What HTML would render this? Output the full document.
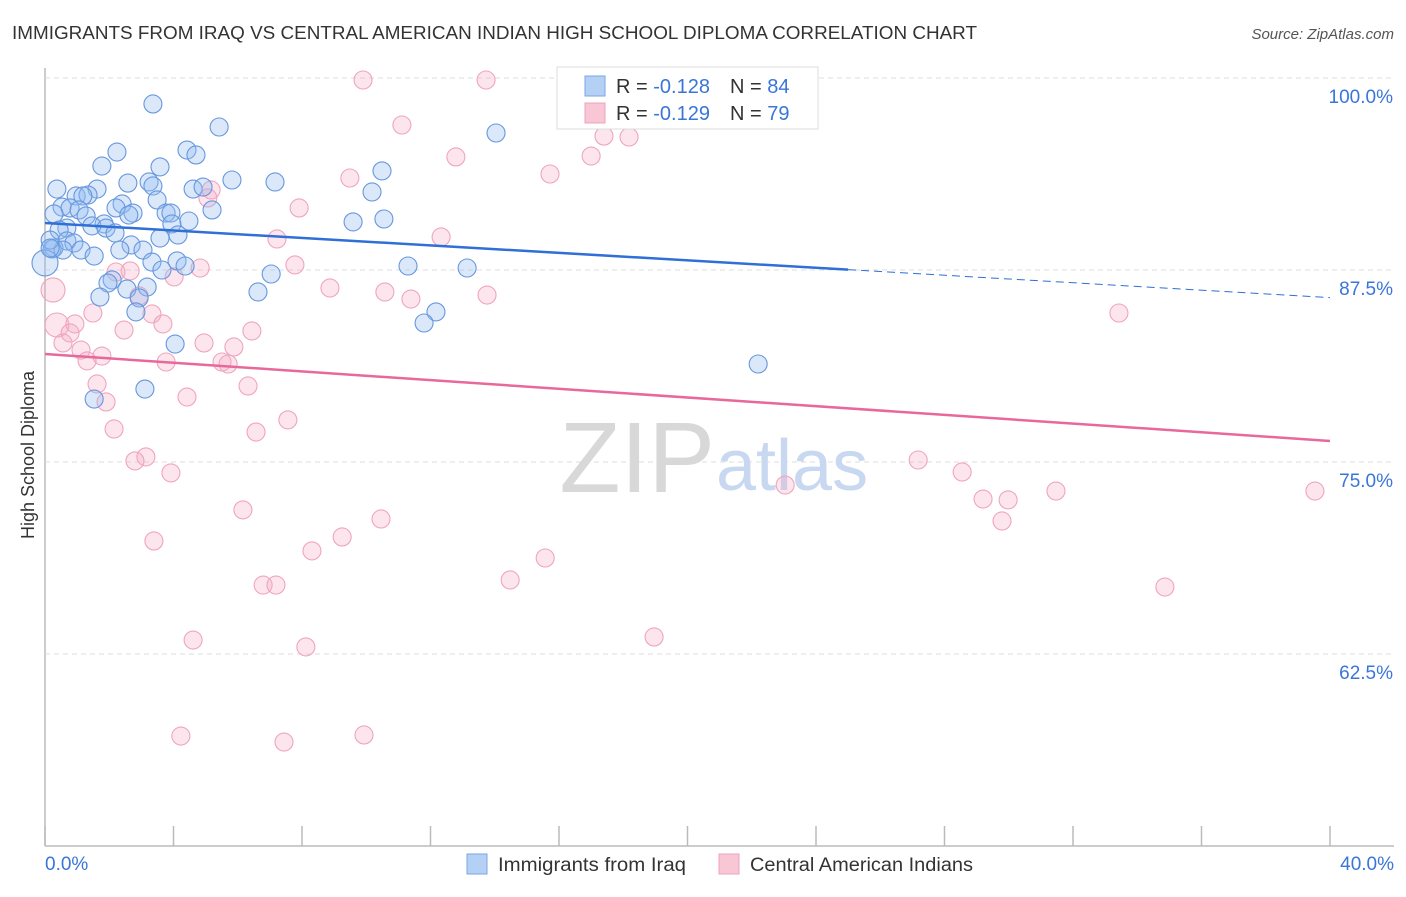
<!DOCTYPE html>
<html><head><meta charset="utf-8"><style>
body{margin:0;background:#fff;font-family:"Liberation Sans",sans-serif;}
svg text{font-family:"Liberation Sans",sans-serif;}
</style></head><body>
<svg width="1406" height="892" viewBox="0 0 1406 892">
<text x="12" y="39" font-size="18" fill="#333" textLength="965" lengthAdjust="spacingAndGlyphs">IMMIGRANTS FROM IRAQ VS CENTRAL AMERICAN INDIAN HIGH SCHOOL DIPLOMA CORRELATION CHART</text>
<text x="1394" y="39" font-size="15" fill="#555" font-style="italic" text-anchor="end">Source: ZipAtlas.com</text>
<g id="grid"></g>
<text x="715" y="492" font-size="100" fill="#d8d8d8" text-anchor="end" font-family="Liberation Serif">ZIP</text>
<text x="716" y="490" font-size="72" fill="#c8d8f0">atlas</text>
<g id="pts"></g>
<g id="trend"></g>
<text transform="translate(34,455) rotate(-90)" font-size="18" fill="#333" text-anchor="middle">High School Diploma</text>
<text x="45" y="870" font-size="19" fill="#3a75d8">0.0%</text>
<text x="1394" y="870" font-size="19" fill="#3a75d8" text-anchor="end">40.0%</text>
<g>
<rect x="557" y="67" width="261" height="62" fill="#fff" stroke="#ddd"/>
<rect x="585" y="76" width="20" height="20" fill="#b5d0f5" stroke="#7aa6e6"/>
<rect x="585" y="103" width="20" height="20" fill="#f9c6d6" stroke="#eda3bc"/>
<text x="616" y="93" font-size="20" fill="#333">R = <tspan fill="#3a75d8">-0.128</tspan><tspan dx="20">N = </tspan><tspan fill="#3a75d8">84</tspan></text>
<text x="616" y="120" font-size="20" fill="#333">R = <tspan fill="#3a75d8">-0.129</tspan><tspan dx="20">N = </tspan><tspan fill="#3a75d8">79</tspan></text>
</g>
<g>
<rect x="467" y="854" width="20" height="20" fill="#b5d0f5" stroke="#7aa6e6"/>
<text x="498" y="871" font-size="19" fill="#333" textLength="188" lengthAdjust="spacingAndGlyphs">Immigrants from Iraq</text>
<rect x="719" y="854" width="20" height="20" fill="#f9c6d6" stroke="#eda3bc"/>
<text x="750" y="871" font-size="19" fill="#333" textLength="223" lengthAdjust="spacingAndGlyphs">Central American Indians</text>
</g>
</svg>
<script>
const yTicks=[100,87.5,75,62.5];
const yTickLabels=["100.0%","87.5%","75.0%","62.5%"];
const xTicks=[0,4,8,12,16,20,24,28,32,36,40];
const blueX=[3.36,5.42,14.04,2.24,4.42,4.70,1.77,3.58,10.49,7.16,5.82,2.58,3.24,3.36,0.37,1.62,4.61,4.92,10.18,0.97,1.34,1.18,3.49,2.40,2.21,0.53,0.78,1.06,2.74,5.20,3.77,3.92,2.61,0.28,1.28,10.55,9.59,4.48,3.95,1.84,1.46,0.68,0.44,1.90,2.18,4.14,3.58,0.68,0.90,2.68,0.28,0.22,1.12,0.56,3.05,2.33,1.53,3.33,4.11,3.64,4.36,11.30,13.14,7.04,2.09,1.96,3.18,2.55,6.63,1.71,2.93,2.83,12.17,11.80,4.05,22.20,3.11,1.53,0,0.16,0.16];
const blueY=[98.31,96.81,96.42,95.18,95.31,94.99,94.27,94.21,93.95,93.23,93.36,93.16,93.23,92.97,92.77,92.77,92.77,92.90,92.58,92.32,92.38,92.32,92.06,91.80,91.54,91.60,91.54,91.41,91.21,91.41,91.21,91.21,91.08,91.15,91.02,90.82,90.63,90.69,90.50,90.50,90.37,90.23,90.10,90.23,89.91,89.78,89.58,89.39,89.26,89.13,88.93,88.87,88.80,88.80,88.80,88.80,88.41,88.02,88.09,87.50,87.76,87.76,87.63,87.24,86.85,86.65,86.39,86.26,86.07,85.74,85.68,84.77,84.77,84.05,82.68,81.38,79.75,79.10,87.96,89.45,88.93];
const pinkX=[9.90,13.73,22.26,11.11,17.40,18.18,12.79,17.00,9.49,15.72,5.17,5.07,7.91,7.22,12.33,7.78,2.65,2.21,4.02,4.83,8.87,10.58,11.39,13.76,2.93,0.25,33.43,1.49,3.33,0.37,0.93,3.67,0.78,2.46,6.44,0.56,4.95,5.88,1.12,1.77,1.31,3.77,5.51,5.70,1.62,6.32,4.42,1.90,7.56,2.15,6.57,3.14,2.80,27.18,28.55,3.92,23.04,29.20,29.98,31.47,39.53,6.16,10.46,29.79,3.39,9.25,8.31,15.57,14.48,6.79,7.19,34.86,18.96,4.61,8.12,4.23,9.93,7.44];
const pinkY=[99.87,99.87,99.74,96.94,96.22,96.16,94.86,94.92,93.49,93.75,92.71,92.19,91.54,89.52,89.65,87.83,87.44,87.37,87.05,87.63,86.33,86.07,85.61,85.87,85.81,86.20,84.70,84.70,84.64,83.92,83.99,83.99,83.40,83.59,83.53,82.75,82.75,82.49,82.29,81.90,81.58,81.51,81.51,81.38,80.08,79.95,79.23,78.91,77.74,77.15,76.95,75.33,75.07,75.13,74.35,74.29,73.50,72.59,72.53,73.11,73.11,71.88,71.29,71.16,69.86,70.12,69.21,68.75,67.32,66.99,66.99,66.86,63.61,63.41,62.96,57.16,57.23,56.77];
const blueTrend=[90.56,85.70];
const pinkTrend=[82.03,76.37];
const bigBlue=[78];const bigPink=[25,29];
const NS="http://www.w3.org/2000/svg";
const X=v=>45+v/40*1285;
const Y=v=>78+(100-v)/12.5*192;
function mk(t,a,p){const e=document.createElementNS(NS,t);for(const k in a)e.setAttribute(k,a[k]);p.appendChild(e);return e;}
const grid=document.getElementById('grid');
const ax=mk('line',{x1:45,y1:68,x2:45,y2:846,stroke:'#bbb','stroke-width':1.5},grid);


const bx=mk('line',{x1:45,y1:846,x2:1394,y2:846,stroke:'#bbb','stroke-width':1.5},grid);


yTicks.forEach((t,i)=>{
 const l=mk('line',{x1:45,x2:1394,y1:Y(t),y2:Y(t),stroke:'#ddd','stroke-dasharray':'5,4'},grid);
 
 
 const tx=mk('text',{x:1393,y:Y(t)+25,'font-size':19,fill:'#3a75d8','text-anchor':'end'},grid);
 tx.textContent=yTickLabels[i];
 
 
});
xTicks.forEach(t=>{
 const l=mk('line',{x1:X(t),x2:X(t),y1:826,y2:846,stroke:'#bbb','stroke-width':1.5},grid);
 
 
});
const pts=document.getElementById('pts');
pinkX.forEach((v,i)=>{
 const c=mk('circle',{cx:X(v),cy:Y(pinkY[i]),r:bigPink.includes(i)?12:9,fill:'rgba(245,170,195,0.3)',stroke:'#efa5be','stroke-width':1.1},pts);
 
 
});
blueX.forEach((v,i)=>{
 const c=mk('circle',{cx:X(v),cy:Y(blueY[i]),r:bigBlue.includes(i)?13:9,fill:'rgba(150,190,240,0.35)',stroke:'#6797de','stroke-width':1.1},pts);
 
 
});
const tr=document.getElementById('trend');
const bAt=x=>blueTrend[0]+(blueTrend[1]-blueTrend[0])*x/40;
const b1=mk('line',{x1:X(0),y1:Y(bAt(0)),x2:X(25),y2:Y(bAt(25)),stroke:'#2f6fd6','stroke-width':2.5},tr);


const b2=mk('line',{x1:X(25),y1:Y(bAt(25)),x2:X(40),y2:Y(bAt(40)),stroke:'#2f6fd6','stroke-width':1,'stroke-dasharray':'8,5'},tr);


const p1=mk('line',{x1:X(0),y1:Y(pinkTrend[0]),x2:X(40),y2:Y(pinkTrend[1]),stroke:'#e8689a','stroke-width':2.5},tr);


</script>
</body></html>
